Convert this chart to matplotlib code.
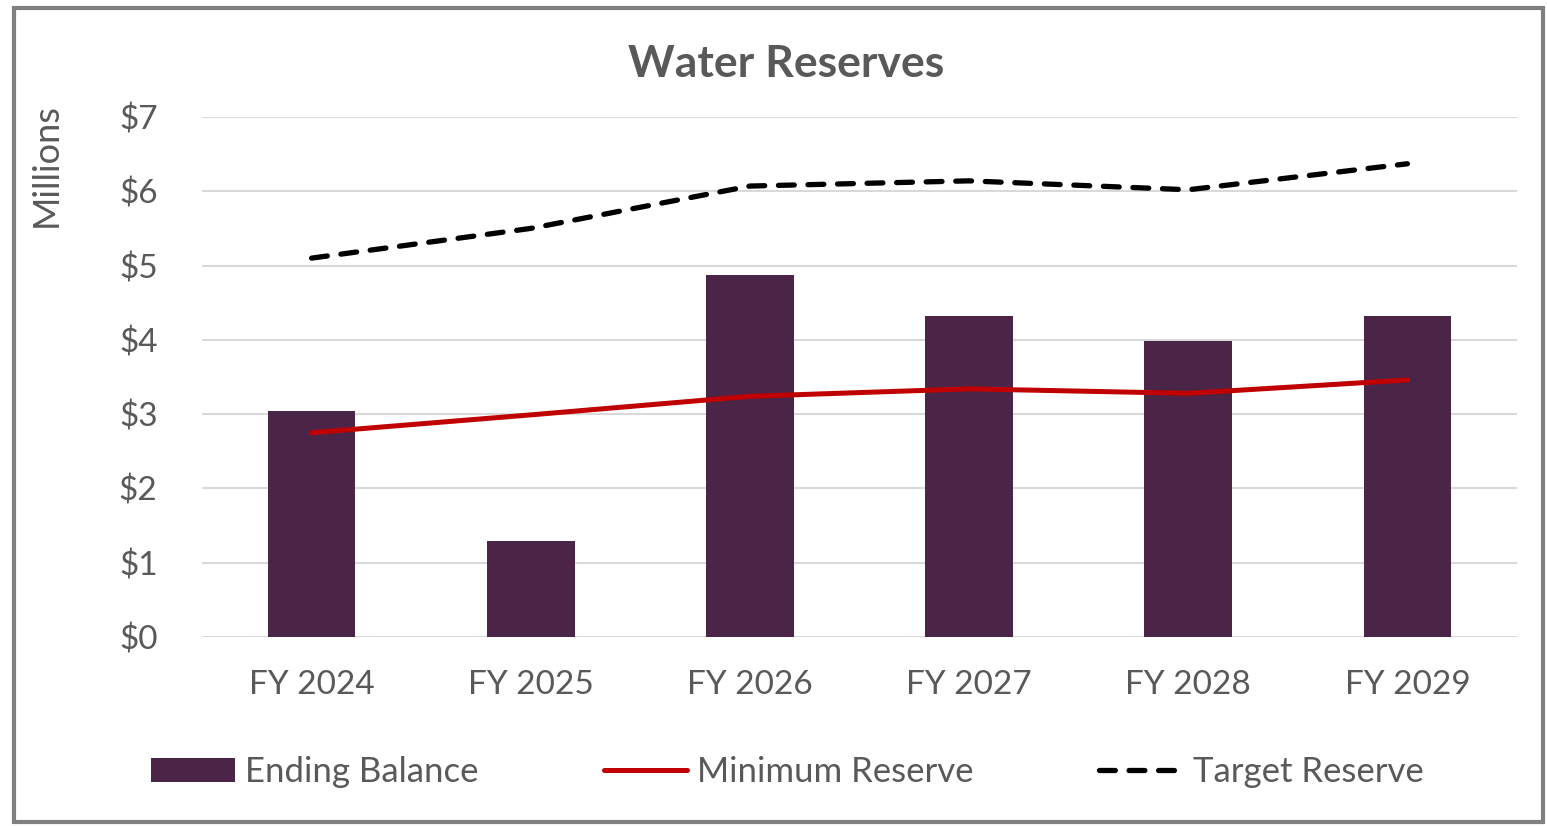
import matplotlib.pyplot as plt
from matplotlib.patches import Rectangle

# data (millions of dollars)
years = ["FY 2024", "FY 2025", "FY 2026", "FY 2027", "FY 2028", "FY 2029"]
ending_balance = [3.04, 1.29, 4.87, 4.32, 3.98, 4.32]
minimum_reserve = [2.75, 2.99, 3.24, 3.34, 3.28, 3.46]
target_reserve = [5.10, 5.50, 6.07, 6.14, 6.02, 6.37]
yticks = [0, 1, 2, 3, 4, 5, 6, 7]

plt.rcParams['font.family'] = ['Lato', 'DejaVu Sans']
TXT = "#595959"

fig = plt.figure(figsize=(15.47, 8.26), dpi=100)
ax = fig.add_axes([0.1306, 0.2288, 0.85, 0.6296])

x = list(range(len(years)))
bars = ax.bar(x, ending_balance, width=0.40, color="#4A2548",
              label="Ending Balance", zorder=2)
min_line, = ax.plot(x, minimum_reserve, color="#C00000", lw=3.6,
                    solid_capstyle="round", label="Minimum Reserve", zorder=3)
tgt_line, = ax.plot(x, target_reserve, color="black", lw=3.8, dashes=(3.0, 2.6),
                    dash_capstyle="round", label="Target Reserve", zorder=3)

ax.set_xlim(-0.5, len(years) - 0.5)
ax.set_ylim(0, 7)
ax.set_yticks(yticks)
ax.set_yticklabels([f"${v}" for v in yticks])
ax.set_xticks(x)
ax.set_xticklabels(years)
ax.tick_params(axis="both", length=0, labelsize=24, colors=TXT)
ax.tick_params(axis="y", pad=32)
ax.tick_params(axis="x", pad=24)
ax.grid(axis="y", color="#D9D9D9", lw=1.5, zorder=0)
for s in ax.spines.values():
    s.set_visible(False)

fig.text(0.508, 0.922, "Water Reserves", ha="center", va="center",
         fontsize=32, fontweight="bold", color=TXT)
fig.text(0.030, 0.80, "Millions", rotation=90, ha="center", va="center",
         fontsize=26, color=TXT)

leg = fig.legend(handles=[bars, min_line, tgt_line],
                 labels=["Ending Balance", "Minimum Reserve", "Target Reserve"],
                 loc="center", bbox_to_anchor=(0.509, 0.065), ncol=3,
                 frameon=False, fontsize=25, handlelength=2.4,
                 handletextpad=0.3, columnspacing=3.6)
for t in leg.get_texts():
    t.set_color(TXT)

# grey frame around the whole chart
fig.patches.append(Rectangle((0.0093, 0.0048), 0.988, 0.9855,
                             transform=fig.transFigure, fill=False,
                             edgecolor="#808080", lw=3))

fig.savefig("out.png", dpi=100)
